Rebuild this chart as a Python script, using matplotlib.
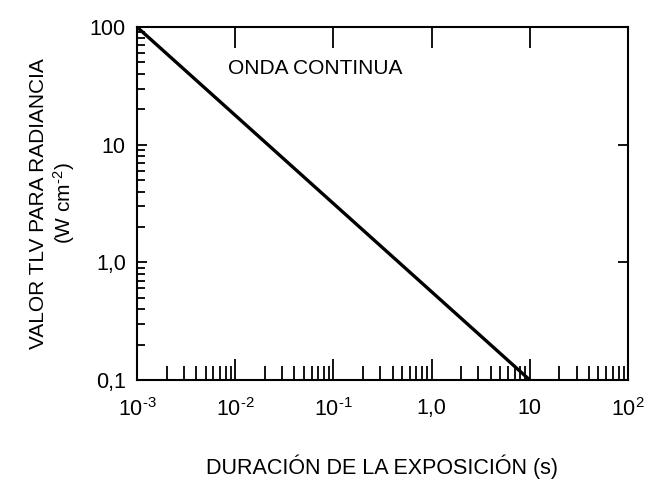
import matplotlib
matplotlib.use("Agg")
import matplotlib.pyplot as plt
from matplotlib.ticker import FixedLocator, LogLocator, NullFormatter

plt.rcParams['font.family'] = ['Liberation Sans', 'DejaVu Sans']
plt.rcParams['mathtext.fontset'] = 'custom'
plt.rcParams['mathtext.rm'] = 'Liberation Sans'
plt.rcParams['mathtext.it'] = 'Liberation Sans'

# data
duration = [1e-3, 10]
tlv = [100, 0.1]

x_ticks = [1e-3, 1e-2, 1e-1, 1, 10, 100]
x_labels = ['10$^{\\text{-}3}$', '10$^{\\text{-}2}$', '10$^{\\text{-}1}$',
            '1,0', '10', '10$^{2}$']
y_ticks = [0.1, 1, 10, 100]
y_labels = ['0,1', '1,0', '10', '100']

fig = plt.figure(figsize=(6.51, 4.91), dpi=100)
ax = fig.add_axes([0.2104, 0.226, 0.7543, 0.719])

ax.plot(duration, tlv, color='black', lw=2.4, solid_capstyle='butt')

ax.set_xscale('log')
ax.set_yscale('log')
ax.set_xlim(1e-3, 100)
ax.set_ylim(0.1, 100)

ax.xaxis.set_major_locator(FixedLocator(x_ticks))
ax.set_xticklabels(x_labels)
ax.yaxis.set_major_locator(FixedLocator(y_ticks))
ax.set_yticklabels(y_labels)
ax.xaxis.set_minor_locator(LogLocator(base=10, subs=range(2, 10)))
ax.yaxis.set_minor_locator(LogLocator(base=10, subs=range(2, 10)))
ax.xaxis.set_minor_formatter(NullFormatter())
ax.yaxis.set_minor_formatter(NullFormatter())

ax.tick_params(axis='both', which='major', direction='in', labelsize=15.5, width=1.3)
ax.tick_params(axis='x', which='major', bottom=True, top=True, length=15, pad=13)
ax.tick_params(axis='x', which='minor', bottom=True, top=False, direction='in',
               length=10, width=1.3)
ax.tick_params(axis='y', which='major', left=True, right=True, length=7, pad=8)
ax.tick_params(axis='y', which='minor', left=True, right=False, direction='in',
               length=6, width=1.3)

for s in ax.spines.values():
    s.set_linewidth(1.5)

ax.text(0.185, 0.855, 'ONDA CONTINUA', transform=ax.transAxes, fontsize=15,
        ha='left', va='bottom')

ax.set_xlabel('DURACIÓN DE LA EXPOSICIÓN (s)', fontsize=15.5, labelpad=24)
ax.set_ylabel('VALOR TLV PARA RADIANCIA\n(W cm$^{\\text{-}2}$)', fontsize=15,
              labelpad=9, linespacing=1.15)

fig.savefig('out.png', dpi=100)
